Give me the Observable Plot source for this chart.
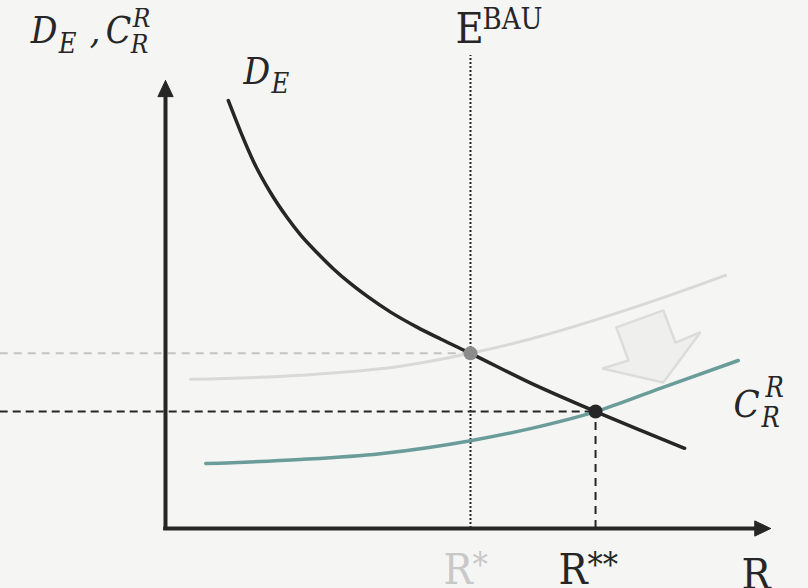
<!DOCTYPE html>
<html>
<head>
<meta charset="utf-8">
<script src="https://cdn.jsdelivr.net/npm/d3@7"></script>
<script src="https://cdn.jsdelivr.net/npm/@observablehq/plot@0.6"></script>
<style>
  html, body { margin: 0; padding: 0; background: #f5f5f3; }
  #chart svg { display: block; }
</style>
</head>
<body>
<div id="chart"></div>
<script>
// Marginal damage of emissions D_E, falling as abatement R rises
const damage = [
  {r: 10.3, v: 95.5}, {r: 12.3, v: 88.6}, {r: 14.4, v: 82.0}, {r: 17.2, v: 75.0},
  {r: 20.0, v: 69.3}, {r: 22.1, v: 65.6}, {r: 24.9, v: 61.5}, {r: 27.5, v: 58.0},
  {r: 30.3, v: 54.7}, {r: 33.1, v: 51.8}, {r: 36.9, v: 48.3}, {r: 41.3, v: 44.9},
  {r: 45.1, v: 42.3}, {r: 50.0, v: 39.1}, {r: 59.8, v: 32.5}, {r: 70.5, v: 26.1},
  {r: 77.9, v: 21.9}, {r: 85.1, v: 17.9}
];

// Marginal abatement cost C_R^R before the shift (business as usual)
const costBefore = [
  {r: 4.1, v: 33.3}, {r: 22.1, v: 34.2}, {r: 38.5, v: 36.2}, {r: 50.0, v: 39.1},
  {r: 61.5, v: 42.9}, {r: 71.3, v: 46.9}, {r: 81.1, v: 51.3}, {r: 91.8, v: 56.5}
];

// Marginal abatement cost C_R^R after the downward shift
const costAfter = [
  {r: 6.6, v: 14.5}, {r: 22.1, v: 15.4}, {r: 35.2, v: 16.7}, {r: 50.0, v: 19.6},
  {r: 59.8, v: 22.3}, {r: 70.5, v: 26.1}, {r: 81.1, v: 31.3}, {r: 93.9, v: 37.5}
];

// Equilibria where damage meets cost
const equilibria = [
  {name: "R*", r: 50.0, v: 39.1},
  {name: "R**", r: 70.5, v: 26.1}
];

// Block arrow showing the cost curve moving down
const shiftArrow = [
  {r: 73.9, v: 44.9}, {r: 81.6, v: 48.7}, {r: 83.6, v: 41.5}, {r: 87.7, v: 43.8},
  {r: 81.6, v: 32.6}, {r: 71.6, v: 35.7}, {r: 75.9, v: 37.5}, {r: 73.9, v: 44.9}
];

// Axis ends and arrowheads
const axisTop = 100;      // top of the vertical axis
const axisRight = 99.2;   // right end of the horizontal axis
const bauTop = 105.6;     // top of the E^BAU guide
const pageLeft = -27.1;   // guides run to the left edge

const yHead = [{r: 0, v: axisTop}, {r: -1.25, v: 96.4}, {r: 1.25, v: 96.4}, {r: 0, v: axisTop}];
const xHead = [{r: axisRight, v: 0}, {r: 96.6, v: 1.7}, {r: 96.6, v: -1.7}, {r: axisRight, v: 0}];

// Label texts
const axisTitle = ["D", "E", ",", "C", "R", "R"];
const damageName = ["D", "E"];
const costName = ["C", "R", "R"];
const bauName = ["E", "BAU"];
const xName = "R";

const ink = "#262626";
const serif = "'DejaVu Serif Condensed', 'DejaVu Serif', serif";

// Composite label: several text pieces sharing one anchor, shifted in pixels
function rich(anchor, parts, fill = ink) {
  return parts.map(p => Plot.text([anchor], {
    x: "r", y: "v",
    text: () => p.t,
    dx: p.dx ?? 0, dy: p.dy ?? 0,
    fontSize: p.size,
    fontStyle: p.italic ? "italic" : "normal",
    fontFamily: serif,
    fill: p.fill ?? fill,
    textAnchor: "start",
    lineAnchor: "bottom"
  }));
}

const [eqA, eqB] = equilibria;

const chart = Plot.plot({
  width: 808,
  height: 588,
  margin: 0,
  x: {domain: [0, 100], range: [165, 775], axis: null},
  y: {domain: [0, 100], range: [528, 80], axis: null},
  style: {background: "transparent", overflow: "visible"},
  marks: [
    // guide lines to the equilibria
    Plot.ruleY([eqA], {y: "v", x1: pageLeft, x2: "r", stroke: "#c4c4c4", strokeWidth: 2, strokeDasharray: "8,6"}),
    Plot.ruleY([eqB], {y: "v", x1: pageLeft, x2: "r", stroke: ink, strokeWidth: 2, strokeDasharray: "8,5"}),
    Plot.ruleX([eqA], {x: "r", y1: 0, y2: bauTop, stroke: ink, strokeWidth: 2, strokeDasharray: "2,2"}),
    Plot.ruleX([eqB], {x: "r", y1: 0, y2: "v", stroke: ink, strokeWidth: 2, strokeDasharray: "8,6"}),

    // cost curve before the shift and the shift arrow
    Plot.line(costBefore, {x: "r", y: "v", curve: "monotone-x", stroke: "#d9d9d9", strokeWidth: 3}),
    Plot.line(shiftArrow, {x: "r", y: "v", fill: "#efefed", stroke: "#dcdcdc", strokeWidth: 2.5, strokeLinejoin: "miter"}),

    // cost curve after the shift and the damage curve
    Plot.line(costAfter, {x: "r", y: "v", curve: "monotone-x", stroke: "#6a9c9a", strokeWidth: 3.5}),
    Plot.line(damage, {x: "r", y: "v", curve: "monotone-x", stroke: ink, strokeWidth: 3.5}),

    // axes
    Plot.ruleX([0], {y1: -0.4, y2: 97, stroke: ink, strokeWidth: 4}),
    Plot.ruleY([0], {x1: -0.3, x2: 97, stroke: ink, strokeWidth: 4}),
    Plot.line(yHead, {x: "r", y: "v", fill: ink, stroke: ink, strokeWidth: 1}),
    Plot.line(xHead, {x: "r", y: "v", fill: ink, stroke: ink, strokeWidth: 1}),

    // equilibrium points
    Plot.dot([eqA], {x: "r", y: "v", r: 7, fill: "#8c8c8c"}),
    Plot.dot([eqB], {x: "r", y: "v", r: 7, fill: ink}),

    // labels
    ...rich({r: -22.1, v: 108.3}, [
      {t: axisTitle[0], size: 37, italic: true},
      {t: axisTitle[1], dx: 28, dy: 10, size: 27, italic: true},
      {t: axisTitle[2], dx: 59, size: 37, italic: true},
      {t: axisTitle[3], dx: 75, size: 37, italic: true},
      {t: axisTitle[4], dx: 102, dy: -16, size: 26, italic: true},
      {t: axisTitle[5], dx: 100, dy: 10, size: 26, italic: true}
    ]),
    ...rich({r: 12.8, v: 99.3}, [
      {t: damageName[0], size: 37, italic: true},
      {t: damageName[1], dx: 28, dy: 9, size: 27, italic: true}
    ]),
    ...rich({r: 93.1, v: 24.8}, [
      {t: costName[0], size: 38, italic: true},
      {t: costName[1], dx: 32, dy: -20, size: 27, italic: true},
      {t: costName[2], dx: 28, dy: 10, size: 27, italic: true}
    ]),
    ...rich({r: eqA.r, v: 108.3}, [
      {t: bauName[0], dx: -15, size: 43},
      {t: bauName[1], dx: 12, dy: -14, size: 29}
    ]),
    ...rich({r: eqA.r, v: -12.3}, [
      {t: "R", dx: -27, size: 43},
      {t: "*", dx: 2, dy: -8, size: 34}
    ], "#c8c8c8"),
    ...rich({r: eqB.r, v: -12.3}, [
      {t: "R", dx: -37, size: 43},
      {t: "**", dx: -8, dy: -8, size: 34}
    ]),
    ...rich({r: axisRight, v: -13.4}, [
      {t: xName, dx: -29, size: 43}
    ])
  ]
});

document.getElementById("chart").append(chart);
</script>
</body>
</html>
